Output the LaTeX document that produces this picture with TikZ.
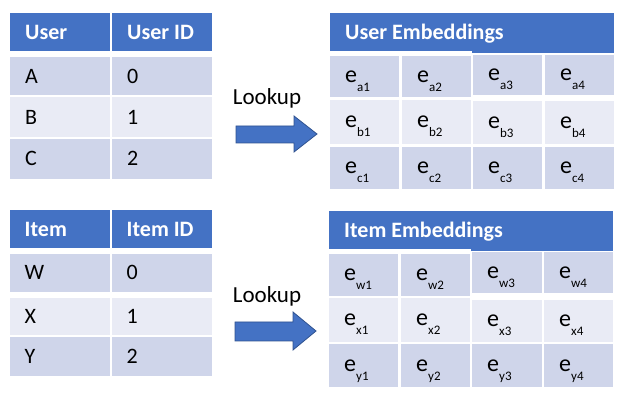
\documentclass[tikz,border=0pt]{standalone}
\usepackage{fontspec}
\setmainfont{Carlito}
\definecolor{hdr}{HTML}{4472C4}
\definecolor{darkrow}{HTML}{CFD5EA}
\definecolor{lightrow}{HTML}{E9EBF5}
\definecolor{arrowedge}{HTML}{2F528F}
\tikzset{
  cellbox/.style={inner sep=0pt, outer sep=0pt, draw=none},
  celltext/.style={inner sep=0pt, text height=14pt, text depth=0pt, font=\fontsize{22}{22}\selectfont, text=black},
  headtext/.style={inner sep=0pt, text height=16pt, text depth=0pt, font=\fontsize{22}{22}\selectfont\bfseries, text=white},
  embtext/.style={inner sep=0pt, text height=11.6pt, text depth=0pt, font=\fontsize{24}{24}\selectfont, text=black},
  looktext/.style={inner sep=0pt, font=\fontsize{23}{23}\selectfont, text=black},
  blockarrow/.style={fill=hdr, draw=arrowedge, line width=0.8pt, line join=miter}
}
\newcommand\tcell[8]{%
  \node[cellbox, fill=#6, minimum width={(#4-#2)*1pt}, minimum height={(#5-#3)*1pt}, anchor=north west] (#1) at (#2,#3) {};
  \node[#8, anchor=west] (#1t) at ([xshift=15pt]#1.west) {#7};
}
\newcommand\esub[1]{e\raisebox{-9pt}{\fontsize{13}{13}\selectfont #1}}
\begin{document}
\begin{tikzpicture}[x=1pt,y=-1pt]
\useasboundingbox (0,0) rectangle (625,401);
% ---- top-left table
\tcell{uh1}{10}{13}{110}{51}{hdr}{User}{headtext}
\tcell{uh2}{112}{13}{212}{51}{hdr}{User ID}{headtext}
\tcell{ua}{10}{57}{110}{95.5}{darkrow}{A}{celltext}
\tcell{uai}{112}{57}{212}{95.5}{darkrow}{0}{celltext}
\tcell{ub}{10}{97.5}{110}{137}{lightrow}{B}{celltext}
\tcell{ubi}{112}{97.5}{212}{137}{lightrow}{1}{celltext}
\tcell{uc}{10}{139}{110}{179}{darkrow}{C}{celltext}
\tcell{uci}{112}{139}{212}{179}{darkrow}{2}{celltext}
% ---- bottom-left table
\tcell{ih1}{9.5}{210}{110}{248}{hdr}{Item}{headtext}
\tcell{ih2}{111.5}{210}{211.5}{248}{hdr}{Item ID}{headtext}
\tcell{iw}{9.5}{254}{110}{292}{darkrow}{W}{celltext}
\tcell{iwi}{111.5}{254}{211.5}{292}{darkrow}{0}{celltext}
\tcell{ix}{9.5}{298}{110}{335}{lightrow}{X}{celltext}
\tcell{ixi}{111.5}{298}{211.5}{335}{lightrow}{1}{celltext}
\tcell{iy}{9.5}{337}{110}{376}{darkrow}{Y}{celltext}
\tcell{iyi}{111.5}{337}{211.5}{376}{darkrow}{2}{celltext}
% ---- lookup labels and arrows
\node[looktext] (look1) at (267,98) {Lookup};
\node[looktext] (look2) at (267,296) {Lookup};
\draw[blockarrow] (236,126) -- (294,126) -- (294,116) -- (317,134) -- (294,152) -- (294,143) -- (236,143) -- cycle;
\draw[blockarrow] (235,322) -- (293,322) -- (293,312) -- (316,331) -- (293,350) -- (293,341) -- (235,341) -- cycle;
% ---- user embeddings
\node[cellbox, fill=hdr, minimum width=142pt, minimum height=38pt, anchor=north west] (ueh1) at (330,13) {};
\node[cellbox, fill=hdr, minimum width=142pt, minimum height=40pt, anchor=north west] (ueh2) at (472,13) {};
\node[headtext, anchor=west] (ueht) at (345,32) {User Embeddings};
\tcell{ea1}{330}{56}{399}{97}{darkrow}{\esub{a1}}{embtext}
\tcell{ea2}{402}{56}{471}{97}{darkrow}{\esub{a2}}{embtext}
\tcell{ea3}{473}{55}{542}{95}{darkrow}{\esub{a3}}{embtext}
\tcell{ea4}{545}{55}{614}{95}{darkrow}{\esub{a4}}{embtext}
\tcell{eb1}{330}{100}{399}{144}{lightrow}{\esub{b1}}{embtext}
\tcell{eb2}{402}{100}{471}{144}{lightrow}{\esub{b2}}{embtext}
\tcell{eb3}{473}{101.5}{542}{144}{lightrow}{\esub{b3}}{embtext}
\tcell{eb4}{545}{101.5}{614}{144}{lightrow}{\esub{b4}}{embtext}
\tcell{ec1}{330}{147}{399}{189}{darkrow}{\esub{c1}}{embtext}
\tcell{ec2}{402}{147}{471}{189}{darkrow}{\esub{c2}}{embtext}
\tcell{ec3}{473}{147}{542}{189}{darkrow}{\esub{c3}}{embtext}
\tcell{ec4}{545}{147}{614}{189}{darkrow}{\esub{c4}}{embtext}
% ---- item embeddings
\node[cellbox, fill=hdr, minimum width=142pt, minimum height=38pt, anchor=north west] (ieh1) at (329,211) {};
\node[cellbox, fill=hdr, minimum width=142pt, minimum height=40pt, anchor=north west] (ieh2) at (471,211) {};
\node[headtext, anchor=west] (ieht) at (344,230) {Item Embeddings};
\tcell{ew1}{329}{254}{398}{296}{darkrow}{\esub{w1}}{embtext}
\tcell{ew2}{401}{254}{470}{296}{darkrow}{\esub{w2}}{embtext}
\tcell{ew3}{472}{252.5}{542}{293}{darkrow}{\esub{w3}}{embtext}
\tcell{ew4}{544}{252.5}{613}{293}{darkrow}{\esub{w4}}{embtext}
\tcell{ex1}{329}{298}{398}{342}{lightrow}{\esub{x1}}{embtext}
\tcell{ex2}{401}{298}{470}{342}{lightrow}{\esub{x2}}{embtext}
\tcell{ex3}{472}{300}{542}{342}{lightrow}{\esub{x3}}{embtext}
\tcell{ex4}{544}{300}{613}{342}{lightrow}{\esub{x4}}{embtext}
\tcell{ey1}{329}{344}{398}{387}{darkrow}{\esub{y1}}{embtext}
\tcell{ey2}{401}{344}{470}{387}{darkrow}{\esub{y2}}{embtext}
\tcell{ey3}{472}{344}{542}{387}{darkrow}{\esub{y3}}{embtext}
\tcell{ey4}{544}{344}{613}{387}{darkrow}{\esub{y4}}{embtext}
\end{tikzpicture}
\end{document}
